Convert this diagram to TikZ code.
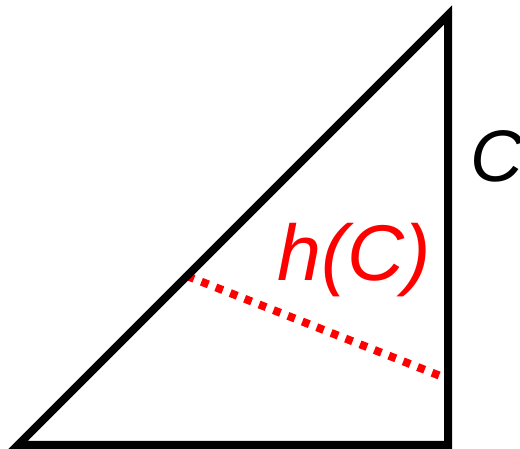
\documentclass[tikz,border=0pt]{standalone}
\usepackage{fontspec}
\setmainfont{Liberation Sans}
\usepackage{tikz}
\usetikzlibrary{calc}
\usepackage{tkz-euclide}

\begin{document}
\begin{tikzpicture}[x=1pt, y=1pt]
            \useasboundingbox (0,0) rectangle (520,449);
            \tkzDefPoints{18/4/B, 448/4/R, 448/434/A}
            \tkzDefPoints{187/173/P, 448/70/Q}
            \tkzDrawSegments[red, line width=8pt, line cap=butt, dash pattern=on 7.5pt off 8pt](P,Q)
            \tkzDrawPolygon[black, line width=8pt, line join=miter](B,R,A)
            \node[inner sep=0pt, font=\fontsize{73}{80}\selectfont\itshape] (lblC) at (497,293) {C};
            \node[inner sep=0pt, red, font=\fontsize{79}{86}\selectfont\itshape] (lblH) at (354,189) {h(C)};
        \end{tikzpicture}
\end{document}
